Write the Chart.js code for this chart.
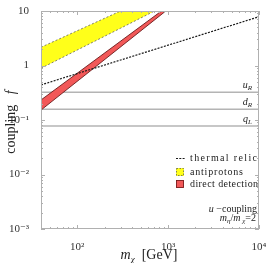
<!DOCTYPE html>
<html><head><meta charset="utf-8">
<script src="https://cdn.jsdelivr.net/npm/chart.js@4/dist/chart.umd.min.js"></script>
<style>html,body{margin:0;padding:0;background:#fff}canvas{display:block}</style>
</head><body>
<canvas id="c" width="266" height="263"></canvas>
<script>
// ---- data ----
const massTicks = [100, 1000, 10000];
const massTickLabels = ['10\u00B2', '10\u00B3', '10\u2074'];
const couplingTicks = [10, 1, 0.1, 0.01, 0.001];
const couplingTickLabels = ['10', '1', '10\u207B\u00B9', '10\u207B\u00B2', '10\u207B\u00B3'];

const thermalMass = [40, 100, 1000, 10000];
const thermalCoupling = [0.44, 0.71, 2.36, 7.85];

const antiprotonMass = [40, 300, 711];
const antiprotonUpper = [2.16, 10, 19];
const antiprotonLower = [0.89, 4.83, 10];

const directMass = [40, 1000];
const directUpper = [0.233, 12.3];
const directLower = [0.152, 10.8];

const chiralMass = [40, 10000];
const chiralNames = [['u', 'R'], ['d', 'R'], ['q', 'L']];
const chiralValues = [0.322, 0.157, 0.078];

const SERIF = '"Liberation Serif", "DejaVu Serif", serif';

function pts(xs, ys) { return xs.map((x, i) => ({x: x, y: ys[i]})); }

const datasets = [];
chiralValues.forEach(v => {
  datasets.push({data: pts(chiralMass, chiralMass.map(() => v)), borderColor: '#b4b4b4', borderWidth: 1.5, pointRadius: 0, fill: false, order: 10});
});
// index 3,4 : antiprotons
datasets.push({data: pts(antiprotonMass, antiprotonUpper), borderColor: '#606060', borderWidth: 0.8, borderDash: [2, 2], pointRadius: 0, fill: false, order: 5});
datasets.push({data: pts(antiprotonMass, antiprotonLower), borderColor: '#606060', borderWidth: 0.8, borderDash: [2, 2], pointRadius: 0, fill: {target: 3}, backgroundColor: '#ffff1a', order: 5});
// index 5,6 : direct detection
datasets.push({data: pts(directMass, directUpper), borderColor: '#6a1a1a', borderWidth: 0.9, pointRadius: 0, fill: false, order: 4});
datasets.push({data: pts(directMass, directLower), borderColor: '#6a1a1a', borderWidth: 0.9, pointRadius: 0, fill: {target: 5}, backgroundColor: '#f25858', order: 4});
// thermal relic
datasets.push({data: pts(thermalMass, thermalCoupling), borderColor: '#1a1a1a', borderWidth: 1.2, borderDash: [2, 1.3], pointRadius: 0, fill: false, order: 0});

function rich(ctx, parts, x, y, align) {
  let w = 0;
  parts.forEach(p => { ctx.font = p.f; p.w = ctx.measureText(p.t).width; w += p.w; });
  let cx = align === 'right' ? x - w : align === 'center' ? x - w / 2 : x;
  parts.forEach(p => { ctx.font = p.f; ctx.fillText(p.t, cx, y + (p.dy || 0)); cx += p.w; });
}
function fitText(ctx, text, font, x, y, width) {
  ctx.font = font;
  ctx.letterSpacing = '0px';
  const w = ctx.measureText(text).width;
  const sp = Math.max(0, (width - w) / (text.length - 1));
  ctx.letterSpacing = sp.toFixed(2) + 'px';
  ctx.fillText(text, x, y);
  ctx.letterSpacing = '0px';
}

const decor = {
  id: 'decor',
  afterDatasetsDraw(chart) {
    const ctx = chart.ctx, a = chart.chartArea;
    const xs = chart.scales.x, ys = chart.scales.y;
    ctx.save();
    // frame
    ctx.strokeStyle = '#b0b0b0';
    ctx.lineWidth = 1;
    ctx.strokeRect(a.left + 0.5, a.top + 0.5, a.right - a.left - 1, a.bottom - a.top - 1);
    // ticks
    ctx.beginPath();
    for (let e = 1; e <= 4; e++) {
      for (let k = 1; k <= 9; k++) {
        const v = k * Math.pow(10, e);
        if (v < xs.min || v > xs.max) continue;
        const px = Math.round(xs.getPixelForValue(v)) + 0.5;
        const L = k === 1 ? 4 : 2;
        ctx.moveTo(px, a.bottom); ctx.lineTo(px, a.bottom - L);
        ctx.moveTo(px, a.top); ctx.lineTo(px, a.top + L);
      }
    }
    for (let e = -3; e <= 1; e++) {
      for (let k = 1; k <= 9; k++) {
        const v = k * Math.pow(10, e);
        if (v < ys.min * 0.999 || v > ys.max * 1.001) continue;
        const py = Math.round(ys.getPixelForValue(v)) + 0.5;
        const L = k === 1 ? 4 : 2;
        ctx.moveTo(a.left, py); ctx.lineTo(a.left + L, py);
        ctx.moveTo(a.right, py); ctx.lineTo(a.right - L, py);
      }
    }
    ctx.stroke();

    ctx.fillStyle = '#222';
    ctx.textBaseline = 'alphabetic';
    // chirality labels
    chiralNames.forEach((n, i) => {
      const py = ys.getPixelForValue(chiralValues[i]) - 4;
      rich(ctx, [{t: n[0], f: 'italic 10px ' + SERIF}, {t: n[1], f: 'italic 7px ' + SERIF, dy: 2}], 252, py, 'right');
    });

    // axis titles
    rich(ctx, [{t: 'm', f: 'italic 14px ' + SERIF}, {t: '\u03C7', f: 'italic 9px ' + SERIF, dy: 3}, {t: '  [GeV]', f: '14px ' + SERIF}], 149, 259, 'center');
    ctx.save();
    ctx.translate(15, 122);
    ctx.rotate(-Math.PI / 2);
    rich(ctx, [{t: 'coupling', f: '14px ' + SERIF}, {t: '   ', f: '14px ' + SERIF}, {t: 'f', f: 'italic 14px ' + SERIF}], 0, 0, 'center');
    ctx.restore();

    // legend
    ctx.strokeStyle = '#1a1a1a';
    ctx.lineWidth = 1.2;
    ctx.setLineDash([2, 1.3]);
    ctx.beginPath(); ctx.moveTo(176, 158.5); ctx.lineTo(185, 158.5); ctx.stroke();
    ctx.setLineDash([]);
    ctx.fillStyle = '#ffff1a';
    ctx.fillRect(176, 168, 8, 8);
    ctx.strokeStyle = '#606060'; ctx.lineWidth = 0.8; ctx.setLineDash([1.5, 1.5]);
    ctx.strokeRect(176.5, 168.5, 7, 7);
    ctx.setLineDash([]);
    ctx.fillStyle = '#f25858';
    ctx.fillRect(176, 180, 8, 8);
    ctx.strokeStyle = '#6a1a1a'; ctx.lineWidth = 0.8;
    ctx.strokeRect(176.5, 180.5, 7, 7);

    ctx.fillStyle = '#222';
    const lf = '10px ' + SERIF;
    fitText(ctx, 'thermal relic', lf, 190, 161, 67);
    fitText(ctx, 'antiprotons', lf, 190, 175, 53);
    fitText(ctx, 'direct detection', lf, 190, 187, 68);

    rich(ctx, [{t: 'u', f: 'italic 10px ' + SERIF}, {t: ' \u2212coupling', f: '10px ' + SERIF}], 257, 212, 'right');
    rich(ctx, [{t: 'm', f: 'italic 10px ' + SERIF}, {t: '\u03B7', f: 'italic 7px ' + SERIF, dy: 2},
               {t: '/', f: '10px ' + SERIF}, {t: 'm', f: 'italic 10px ' + SERIF}, {t: ' \u03C7', f: 'italic 7px ' + SERIF, dy: 2},
               {t: '=2', f: '10px ' + SERIF}], 256, 221, 'right');
    ctx.restore();
  }
};

new Chart(document.getElementById('c'), {
  type: 'line',
  data: {datasets: datasets},
  options: {
    responsive: false,
    animation: false,
    devicePixelRatio: 1,
    layout: {padding: {top: 11, right: 7, left: 0, bottom: 0}},
    plugins: {legend: {display: false}, tooltip: {enabled: false}},
    elements: {line: {tension: 0}},
    scales: {
      x: {
        type: 'logarithmic', min: 40, max: 10000,
        grid: {display: false}, border: {display: false},
        afterBuildTicks: s => { s.ticks = massTicks.map(v => ({value: v})); },
        afterFit: s => { s.height = 34; s.paddingLeft = 0; s.paddingRight = 0; },
        ticks: {
          autoSkip: false, maxRotation: 0, padding: 4, color: '#333',
          font: {family: SERIF, size: 11},
          callback: v => { const i = massTicks.indexOf(v); return i >= 0 ? massTickLabels[i] : ''; }
        }
      },
      y: {
        type: 'logarithmic', min: 0.001, max: 10,
        grid: {display: false}, border: {display: false},
        afterBuildTicks: s => { s.ticks = couplingTicks.map(v => ({value: v})); },
        afterFit: s => { s.width = 41; s.paddingTop = 0; s.paddingBottom = 0; },
        ticks: {
          autoSkip: false, padding: 4, color: '#333',
          font: {family: SERIF, size: 11},
          callback: v => { const i = couplingTicks.indexOf(v); return i >= 0 ? couplingTickLabels[i] : ''; }
        }
      }
    }
  },
  plugins: [decor]
});
</script>
</body></html>
